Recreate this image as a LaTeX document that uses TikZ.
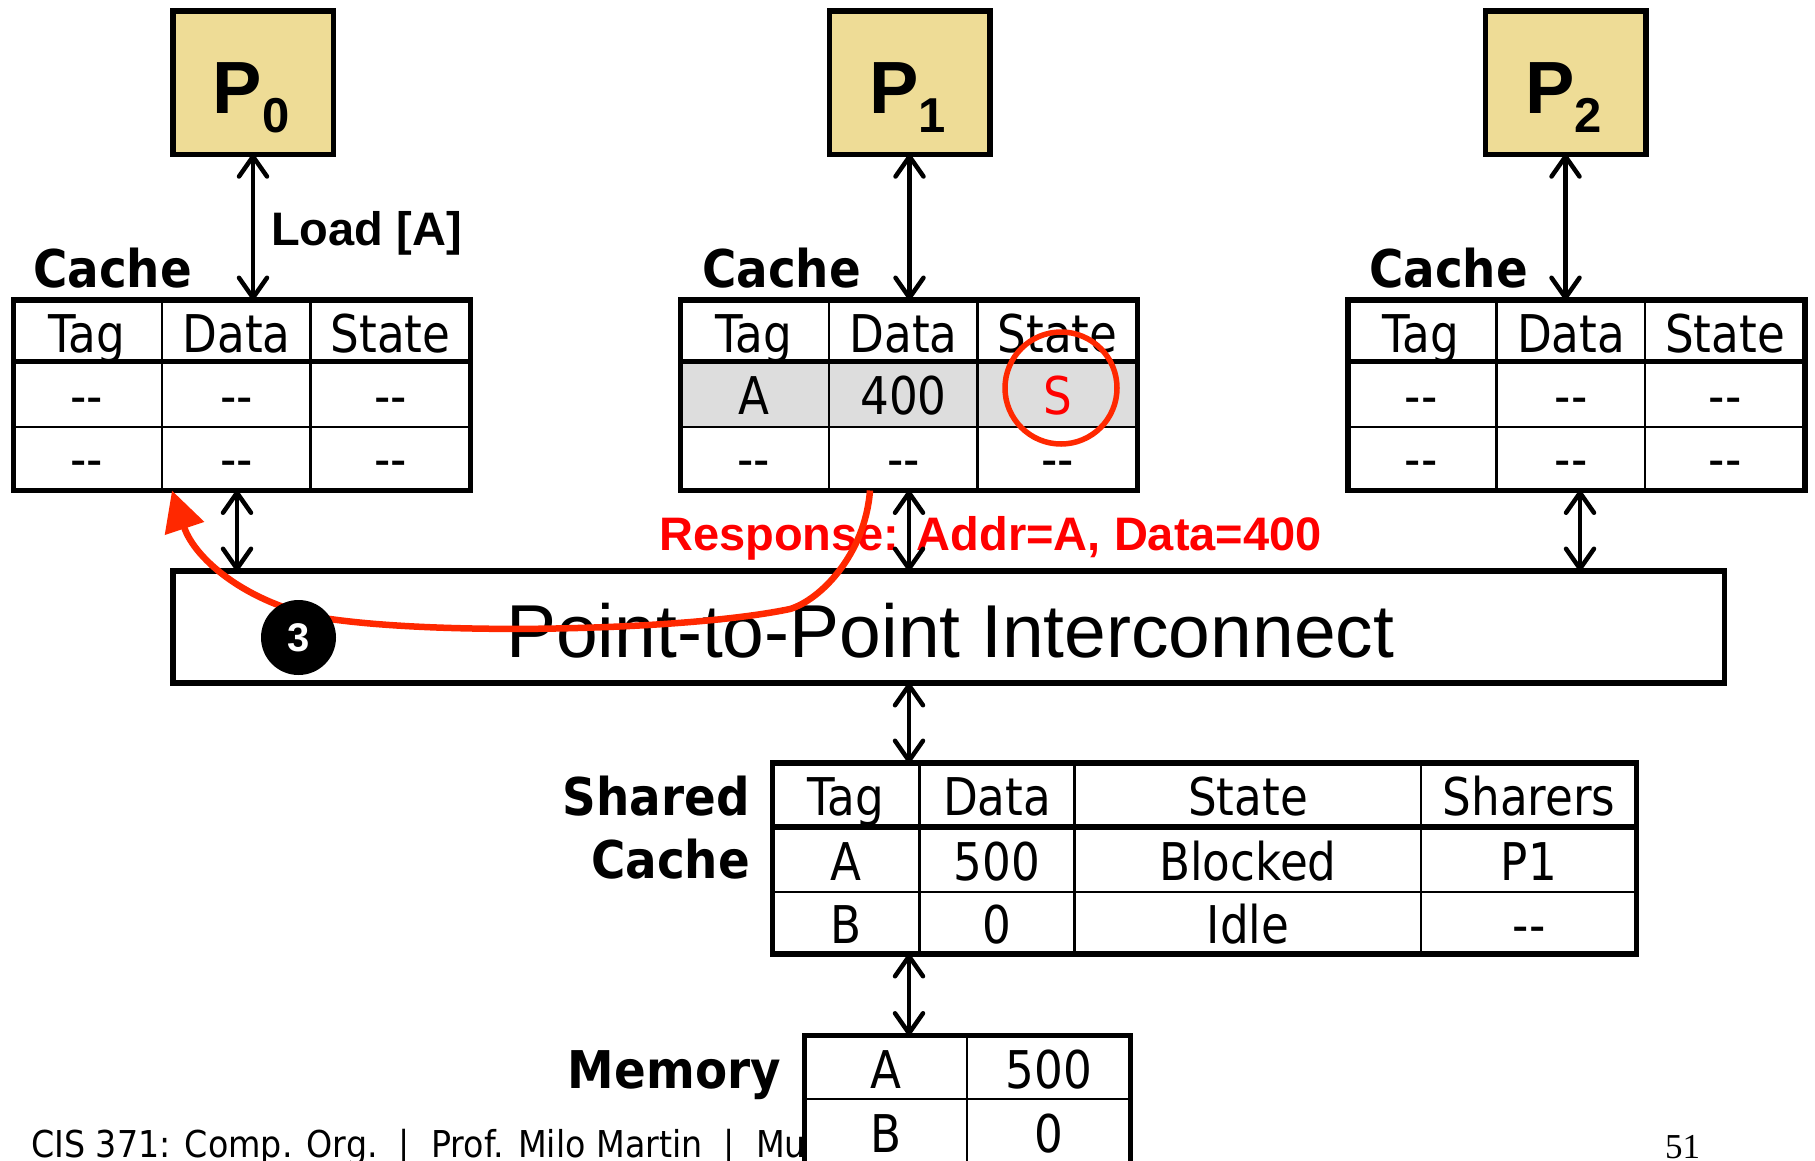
\documentclass[tikz,border=0pt]{standalone}
\usepackage{fontspec}
\usetikzlibrary{arrows.meta}
\newfontfamily\tblfont[FakeStretch=0.87]{DejaVu Sans}
\newfontfamily\lblfont[FakeStretch=0.9]{DejaVu Sans}
\newfontfamily\ftrfont[FakeStretch=0.9]{DejaVu Sans}
\newfontfamily\arialf{Liberation Sans}
\newfontfamily\seriff{Liberation Serif}
\definecolor{ptan}{RGB}{238,220,150}
\definecolor{cred}{RGB}{255,40,0}
\definecolor{rowgray}{RGB}{221,221,221}
\tikzset{
  boxl/.style={draw, line width=5.5pt, inner sep=0pt, outer sep=0pt},
  proc/.style={boxl, fill=ptan, minimum width=160.5pt, minimum height=143.5pt},
  tblnode/.style={fill=white, inner sep=0pt, outer sep=0pt},
  cell/.style={font=\tblfont\fontsize{52}{60}\selectfont, anchor=base, inner sep=0pt},
  lbl/.style={font=\lblfont\bfseries\fontsize{52}{60}\selectfont, inner sep=0pt},
  hdr/.style={line width=5.5pt},
  thinl/.style={line width=2.5pt},
  bidir/.style={line width=4.5pt,
    {Straight Barb[length=20pt,width=28pt,round]}-{Straight Barb[length=20pt,width=28pt,round]}},
}
\newcommand\mkcache[6]{%
  \node[tblnode, minimum width=457pt, minimum height=190.5pt] (#1) at (#2+228.5,395.25) {};
  \fill[#6] (#2,361.5) rectangle (#2+457,427);
  \draw[thinl] (#2,427) -- (#2+457,427);
  \draw[thinl] (#2+148.5,300) -- (#2+148.5,490.5);
  \draw[thinl] (#2+297,300) -- (#2+297,490.5);
  \draw[hdr] (#2,361.5) -- (#2+457,361.5);
  \draw[hdr] (#1.south west) rectangle (#1.north east);
  \node[cell] (#1-a) at (#2+73,352) {Tag};
  \node[cell] (#1-b) at (#2+223,352) {Data};
  \node[cell] (#1-c) at (#2+377,352) {State};
  \node[cell] (#1-d) at (#2+73,414) {#3};
  \node[cell] (#1-e) at (#2+223,414) {#4};
  \node[cell] (#1-f) at (#2+377,414) {#5};
  \node[cell] (#1-g) at (#2+73,477) {-{}-};
  \node[cell] (#1-h) at (#2+223,477) {-{}-};
  \node[cell] (#1-i) at (#2+377,477) {-{}-};
}
\begin{document}
\begin{tikzpicture}[x=1pt,y=-1pt]
\path[use as bounding box] (0,0) rectangle (1815,1160);
\clip (0,0) rectangle (1815,1160);

% processors
\node[proc] (P0) at (253,82.5) {};
\node[proc] (P1) at (909.5,82.5) {};
\node[proc] (P2) at (1565.5,82.5) {};
\foreach \n/\x in {0/251,1/907.5,2/1563.5}{
  \node[anchor=base, inner sep=0pt, font=\arialf\bfseries] (pt\n) at (\x,113)
    {\fontsize{74}{80}\selectfont P\raisebox{-19pt}{\fontsize{49}{55}\selectfont \n}};
}

% cache labels
\node[lbl, anchor=base west] (cl0) at (33,287) {Cache};
\node[lbl, anchor=base west] (cl1) at (702,287) {Cache};
\node[lbl, anchor=base west] (cl2) at (1369,287) {Cache};

% caches
\mkcache{T0}{13.5}{-{}-}{-{}-}{-{}-}{white}
\mkcache{T1}{680.5}{A}{400}{\textcolor{red}{S}}{rowgray}
\mkcache{T2}{1348}{-{}-}{-{}-}{-{}-}{white}

\node[circle, draw=cred, line width=5.5pt, minimum size=112pt, inner sep=0pt] (sring) at (1061,388) {};

% labels
\node[anchor=base west, inner sep=0pt, font=\arialf\bfseries\fontsize{47}{52}\selectfont] (load) at (271,245) {Load [A]};
\node[anchor=base west, inner sep=0pt, text=red, font=\arialf\bfseries\fontsize{47}{52}\selectfont] (resp) at (659,550) {Response: Addr=A, Data=400};

% interconnect
\node[boxl, fill=white, minimum width=1551.5pt, minimum height=112pt] (IC) at (948.75,627) {};
\node[anchor=base west, inner sep=0pt, font=\arialf\fontsize{75}{80}\selectfont] (ict) at (506,657) {Point-to-Point Interconnect};

% red response curve
\draw[cred, line width=6.5pt, -{Triangle[length=40pt,width=40pt]}]
  ([xshift=-39pt]T1.south) .. controls (865,555) and (820,600) .. (790,609)
  .. controls (690,630) and (450,636) .. (330,619)
  .. controls (250,606) and (195,560) .. ([xshift=-70pt]T0.south);

\node[circle, fill=black, minimum size=75pt, inner sep=0pt, text=white,
  font=\arialf\bfseries\fontsize{40}{40}\selectfont] (b3) at (298.5,637.5) {3};

% black arrows
\coordinate (busx) at (909,0);
\draw[bidir] (P0.south) -- (P0.south |- T0.north);
\draw[bidir] (P1.south) -- (P1.south |- T1.north);
\draw[bidir] (P2.south) -- (P2.south |- T2.north);
\draw[bidir] ([xshift=-5pt]T0.south) -- ([xshift=-5pt]T0.south |- IC.north);
\draw[bidir] (T1.south) -- (T1.south |- IC.north);
\draw[bidir] ([xshift=3.5pt]T2.south) -- ([xshift=3.5pt]T2.south |- IC.north);

% shared cache
\node[tblnode, minimum width=864pt, minimum height=191pt] (SC) at (1204.5,858.5) {};
\draw[thinl] (772.5,892) -- (1636.5,892);
\foreach \cx in {919.3,1074.5,1420.8}{\draw[thinl] (\cx,763) -- (\cx,954);}
\draw[hdr] (772.5,827) -- (1636.5,827);
\draw[hdr] (SC.south west) rectangle (SC.north east);
\node[cell] (s1) at (846,815) {Tag};
\node[cell] (s2) at (997,815) {Data};
\node[cell] (s3) at (1248,815) {State};
\node[cell] (s4) at (1529,815) {Sharers};
\node[cell] (s5) at (846,880) {A};
\node[cell] (s6) at (997,880) {500};
\node[cell] (s7) at (1248,880) {Blocked};
\node[cell] (s8) at (1529,880) {P1};
\node[cell] (s9) at (846,943) {B};
\node[cell] (s10) at (997,943) {0};
\node[cell] (s11) at (1248,943) {Idle};
\node[cell] (s12) at (1529,943) {-{}-};
\node[lbl, anchor=base east] (shl) at (750,815) {Shared};
\node[lbl, anchor=base east] (scl) at (750,878) {Cache};

\draw[bidir] (IC.south -| busx) -- (SC.north -| busx);

% footer
\node[anchor=base west, inner sep=0pt, font=\ftrfont\fontsize{37}{40}\selectfont] (foot) at (31,1157)
  {CIS 371: Comp. Org.\ \ |\ \ Prof. Milo Martin\ \ |\ \ Mu};
\node[anchor=base west, inner sep=0pt, font=\seriff\fontsize{35}{40}\selectfont] (pg) at (1665,1158) {51};

% memory
\node[tblnode, minimum width=326pt, minimum height=144.5pt] (Mem) at (967.5,1107.75) {};
\draw[thinl] (804.5,1099) -- (1130.5,1099);
\draw[thinl] (967,1035.5) -- (967,1180);
\draw[hdr] (Mem.south west) rectangle (Mem.north east);
\node[cell] (m1) at (886,1088) {A};
\node[cell] (m2) at (1049,1088) {500};
\node[cell] (m3) at (886,1152) {B};
\node[cell] (m4) at (1049,1152) {0};
\node[lbl, anchor=base east] (meml) at (781,1088) {Memory};

\draw[bidir] (SC.south -| busx) -- (Mem.north -| busx);
\end{tikzpicture}
\end{document}
